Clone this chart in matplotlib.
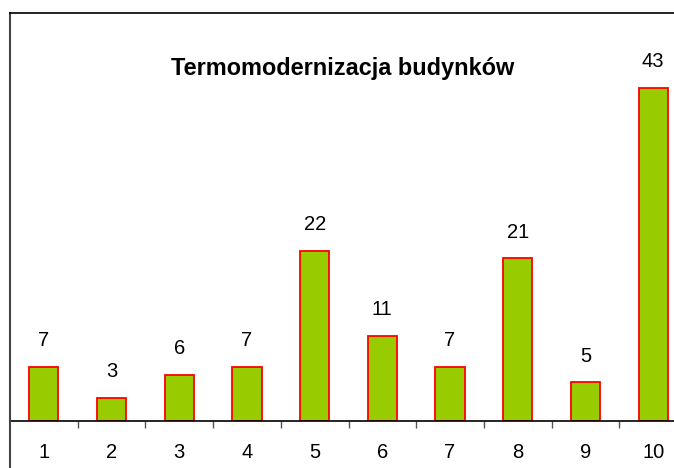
import numpy as np
import matplotlib.pyplot as plt
from matplotlib.lines import Line2D

# chart data
categories = ['1', '2', '3', '4', '5', '6', '7', '8', '9', '10']
values = [7, 3, 6, 7, 22, 11, 7, 21, 5, 43]
title = 'Termomodernizacja budynków'

plt.rcParams['font.family'] = ['Liberation Sans', 'DejaVu Sans']

fig = plt.figure(figsize=(6.74, 4.68), dpi=100)
# axes runs past the right edge like the cropped original
ax = fig.add_axes([10 / 674, 47 / 468, 677 / 674, 408 / 468])

x = np.arange(1, len(values) + 1)
ax.bar(x, values, width=0.43, color='#99CC00', edgecolor='#FF0000', linewidth=1.3)

# value labels above bars
for xi, v in zip(x, values):
    ax.annotate(str(v), (xi, v), xytext=(0, 12), textcoords='offset points',
                ha='center', va='bottom', fontsize=14.5)

ax.set_xlim(0.5, len(values) + 0.5)
ax.set_ylim(0, 52.7)

# category labels centred, ticks between categories
ax.set_xticks(x)
ax.set_xticklabels(categories, fontsize=14.5)
ax.tick_params(axis='x', which='major', length=0, pad=16)
ax.set_xticks(np.arange(1.5, len(values) + 0.5, 1), minor=True)
ax.tick_params(axis='x', which='minor', length=5, width=1, color='#555555', direction='out')
ax.set_yticks([])

for side in ['top', 'right', 'left']:
    ax.spines[side].set_visible(False)
ax.spines['bottom'].set_linewidth(1.2)

# title placed in figure pixels
fig.text(342.5 / 674, 1 - 68 / 468, title, ha='center', va='center',
         fontsize=16.9, fontweight='bold')

# chart-area frame (left and top edges)
fig.add_artist(Line2D([10 / 674, 10 / 674], [0, 1 - 13 / 468], color='#444444', lw=1.5))
fig.add_artist(Line2D([10 / 674, 1], [1 - 13 / 468, 1 - 13 / 468], color='black', lw=1.2))

fig.savefig('out.png', dpi=100)
